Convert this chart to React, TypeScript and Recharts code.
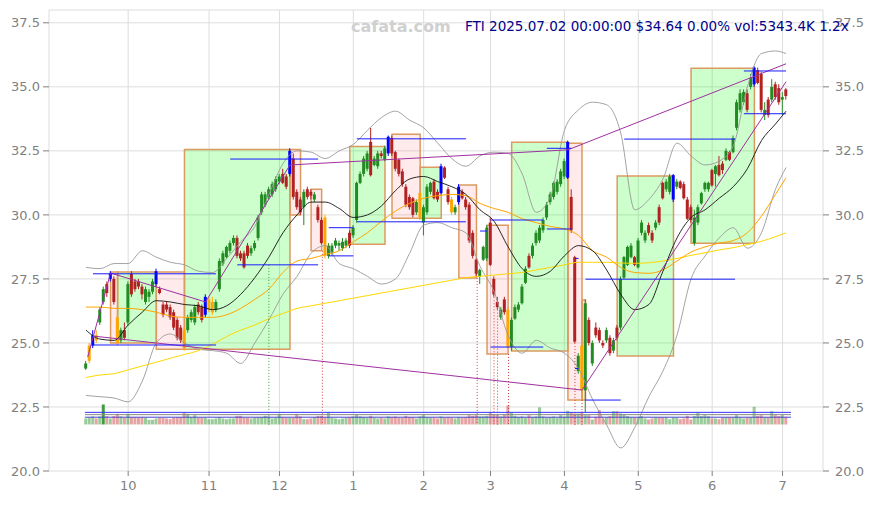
import React from "react"
import {
  ComposedChart,
  Bar,
  Line,
  XAxis,
  YAxis,
  CartesianGrid,
  ReferenceArea,
  ReferenceLine,
  Cell,
} from "recharts"

// daily candles, index 0 = 2024-09-13 ... 199 = 2025-07-02
const opens = [
  24.0, 24.3, 24.9, 25.3, 25.8, 26.6, 27.3, 27.5, 27.5, 26.0, 25.1, 25.5, 25.8, 27.7, 27.4, 27.4, 27.2, 26.6, 26.8, 27.0,
  27.3, 27.1, 26.5, 26.5, 26.4, 26.2, 25.9, 25.6, 25.5, 25.5, 25.9, 25.8, 26.5, 26.4, 26.1, 26.3, 26.2, 26.3, 27.1, 28.1,
  28.35, 28.6, 28.9, 29.1, 28.5, 28.5, 28.8, 28.5, 28.7, 29.1, 30.1, 30.4, 30.7, 30.8, 31.0, 31.3, 31.6, 31.5, 31.6, 32.2,
  30.9, 30.6, 30.3, 31.0, 30.9, 30.6, 30.3, 29.8, 29.9, 28.4, 28.5, 28.8, 28.8, 28.7, 28.8, 29.3, 29.2, 29.8, 31.25, 31.6,
  31.8, 32.85, 31.95, 31.9, 32.4, 32.15, 32.4, 33.0, 32.45, 32.15, 31.7, 31.1, 30.7, 30.65, 30.1, 29.9, 29.7, 30.1, 30.9, 31.3,
  30.9, 30.85, 31.85, 31.0, 30.6, 30.1, 30.5, 30.9, 30.6, 30.4, 29.3, 28.25, 27.6, 28.25, 28.3, 29.7, 27.5, 26.6, 26.0, 26.7,
  26.3, 24.85, 25.95, 26.3, 26.55, 27.35, 28.4, 28.4, 28.9, 29.0, 29.4, 29.9, 30.5, 30.7, 30.9, 31.2, 31.5, 31.45, 30.7, 28.35,
  23.9, 24.9, 23.15, 25.9, 24.2, 25.6, 25.5, 25.0, 25.1, 25.2, 24.7, 25.6, 25.6, 27.55, 28.05, 28.35, 28.35, 27.95, 29.3, 29.0,
  29.6, 29.3, 29.5, 30.3, 31.25, 31.0, 30.9, 30.6, 31.1, 31.3, 31.2, 30.6, 30.3, 28.9, 29.7, 30.45, 31.0, 31.0, 31.75, 31.6,
  31.95, 32.0, 32.15, 32.45, 32.45, 33.4, 34.1, 34.4, 34.75, 35.0, 35.1, 35.65, 35.5, 33.9, 34.5, 34.5, 35.1, 34.95, 34.5, 34.9,
]
const highs = [
  24.3, 25.0, 25.5, 25.5, 26.4, 27.2, 27.4, 27.8, 27.6, 26.1, 25.6, 25.8, 27.4, 27.8, 27.5, 27.5, 27.3, 27.2, 27.1, 27.5,
  27.9, 27.2, 26.6, 26.6, 26.5, 26.3, 26.0, 25.7, 25.6, 26.1, 26.3, 26.5, 26.6, 26.5, 26.9, 26.8, 26.8, 26.7, 28.3, 28.6,
  28.8, 29.0, 29.2, 29.2, 28.6, 28.6, 28.9, 28.8, 29.0, 30.0, 30.9, 30.9, 31.1, 31.3, 31.5, 31.6, 31.8, 31.6, 32.6, 32.4,
  31.0, 30.7, 31.0, 31.1, 31.0, 30.9, 30.4, 29.9, 30.0, 28.9, 28.9, 29.1, 29.0, 29.1, 29.1, 29.4, 29.6, 31.3, 31.7, 32.3,
  32.5, 33.4, 32.3, 32.5, 32.5, 32.7, 33.1, 33.1, 32.5, 32.2, 31.8, 31.2, 30.8, 30.7, 30.6, 30.9, 30.4, 31.2, 31.3, 31.4,
  31.0, 32.0, 31.9, 31.1, 30.7, 30.4, 31.2, 31.0, 30.7, 30.5, 29.4, 28.3, 27.9, 28.8, 29.6, 29.9, 27.6, 26.8, 26.4, 26.8,
  26.4, 26.0, 26.5, 26.6, 27.3, 28.0, 28.5, 28.9, 29.4, 29.6, 29.9, 30.5, 30.9, 31.3, 31.4, 31.8, 32.2, 32.9, 31.0, 28.4,
  24.6, 25.0, 26.7, 26.0, 25.1, 25.8, 25.6, 25.1, 25.6, 25.3, 25.2, 25.7, 27.6, 28.4, 28.8, 28.9, 28.4, 29.1, 29.8, 29.4,
  29.7, 29.4, 29.8, 30.4, 31.3, 31.4, 31.6, 31.6, 31.4, 31.35, 31.3, 30.7, 30.4, 30.2, 30.4, 30.9, 31.3, 31.3, 31.8, 31.95,
  32.3, 32.1, 32.6, 32.5, 33.1, 34.5, 34.9, 34.9, 34.9, 35.5, 35.8, 35.75, 35.6, 34.4, 34.6, 35.3, 35.2, 35.1, 34.8, 34.95,
]
const lows = [
  23.95, 24.2, 24.8, 25.0, 25.7, 26.5, 26.8, 27.4, 26.5, 24.9, 25.0, 25.1, 25.7, 26.8, 27.0, 27.1, 26.7, 26.5, 26.6, 26.9,
  27.2, 26.9, 26.0, 26.2, 25.9, 25.5, 25.1, 25.0, 24.7, 25.4, 25.8, 25.7, 26.1, 25.8, 26.0, 26.2, 26.1, 26.2, 27.0, 28.0,
  28.3, 28.5, 28.8, 28.3, 28.2, 27.9, 28.3, 28.4, 28.6, 29.0, 30.0, 30.3, 30.6, 30.7, 30.9, 31.2, 31.2, 31.0, 31.5, 30.6,
  30.2, 30.0, 29.6, 30.6, 30.6, 30.5, 29.7, 28.85, 28.3, 28.3, 28.4, 28.7, 28.6, 28.6, 28.7, 28.7, 29.1, 29.7, 31.2, 31.5,
  31.7, 31.5, 31.9, 31.8, 32.2, 32.1, 32.3, 32.3, 31.7, 31.5, 31.1, 30.3, 30.2, 29.9, 30.0, 29.8, 29.2, 30.0, 30.8, 30.6,
  30.5, 30.8, 31.4, 30.4, 30.0, 30.0, 30.4, 30.6, 30.2, 28.9, 28.3, 27.6, 27.3, 28.2, 28.2, 28.0, 26.8, 26.3, 25.9, 26.1,
  24.8, 24.7, 25.9, 26.2, 26.5, 27.3, 27.9, 28.3, 28.8, 28.9, 29.3, 29.8, 30.4, 30.6, 30.8, 31.1, 31.4, 31.4, 29.3, 25.0,
  23.8, 22.8, 22.3, 24.9, 24.1, 25.2, 25.0, 24.8, 25.0, 24.5, 24.6, 25.1, 25.5, 27.5, 28.0, 28.3, 28.0, 27.9, 29.2, 28.9,
  29.2, 28.9, 29.4, 29.6, 30.6, 30.9, 30.8, 30.5, 31.0, 31.0, 30.6, 29.8, 29.7, 28.8, 29.6, 30.4, 30.9, 30.9, 31.1, 31.1,
  31.5, 31.6, 32.1, 32.1, 32.4, 33.3, 34.0, 34.3, 34.0, 34.9, 35.0, 35.1, 34.0, 33.7, 33.8, 34.4, 34.5, 34.3, 33.9, 34.5,
]
const closes = [
  24.2, 24.9, 25.3, 25.1, 26.3, 27.1, 26.95, 27.7, 26.6, 25.0, 25.5, 25.2, 27.3, 26.9, 27.1, 27.2, 26.9, 27.1, 27.0, 27.4,
  27.8, 26.95, 26.1, 26.3, 26.0, 25.6, 25.2, 25.1, 24.8, 26.0, 26.2, 26.4, 26.2, 25.9, 26.8, 26.7, 26.6, 26.6, 28.2, 28.5,
  28.75, 28.9, 29.1, 28.4, 28.3, 27.95, 28.4, 28.7, 28.9, 29.9, 30.8, 30.8, 31.0, 31.2, 31.4, 31.5, 31.25, 31.1, 32.5, 30.7,
  30.3, 30.1, 30.9, 30.7, 30.75, 30.8, 29.8, 28.9, 28.4, 28.8, 28.8, 29.0, 28.9, 28.95, 29.0, 28.8, 29.5, 31.25, 31.6, 32.2,
  32.4, 31.55, 32.2, 32.4, 32.3, 32.6, 33.05, 32.4, 31.8, 31.6, 31.2, 30.4, 30.3, 30.0, 30.5, 30.85, 30.3, 31.1, 31.25, 30.65,
  30.6, 31.9, 31.45, 30.5, 30.1, 30.3, 31.1, 30.65, 30.3, 29.0, 28.4, 27.7, 27.85, 28.75, 29.5, 28.05, 26.9, 26.4, 26.3, 26.2,
  24.85, 25.9, 26.4, 26.5, 27.2, 27.9, 27.95, 28.8, 29.3, 29.5, 29.8, 30.4, 30.8, 31.25, 31.3, 31.7, 32.1, 32.85, 29.4, 25.05,
  24.5, 23.15, 26.55, 25.0, 25.0, 25.3, 25.1, 24.9, 25.5, 24.6, 25.1, 25.2, 27.5, 28.35, 28.75, 28.8, 28.05, 29.0, 29.7, 29.3,
  29.3, 29.0, 29.7, 29.7, 30.65, 31.3, 31.5, 31.55, 31.3, 31.05, 30.65, 29.85, 29.8, 29.9, 30.3, 30.85, 31.25, 31.25, 31.15, 31.9,
  31.55, 31.75, 32.5, 32.15, 33.0, 34.4, 34.75, 34.8, 34.1, 35.35, 35.75, 35.15, 34.1, 34.1, 33.9, 35.0, 34.6, 34.4, 34.6, 34.64,
]
// volume in thousands of shares
const volumes = [
  4200, 4670, 5600, 4200, 5600, 14000, 5830, 4200, 5830, 7470, 5600, 4670, 7470, 5130, 5130, 4670, 5130, 4670, 3270, 3270,
  4200, 4670, 4670, 4200, 3730, 4670, 5130, 5130, 8400, 7470, 5130, 6530, 4670, 4670, 4670, 3730, 3730, 4200, 5130, 4200,
  3730, 4200, 4200, 6070, 6070, 4670, 4670, 4200, 4670, 5130, 5130, 6070, 5600, 4200, 4670, 7470, 5130, 4670, 4670, 4670,
  7470, 5600, 3730, 3730, 4200, 5130, 6070, 6070, 5130, 8400, 4670, 4200, 3730, 4200, 4670, 5130, 5600, 7000, 5600, 5130,
  4670, 6070, 4670, 4200, 4670, 4200, 5600, 5130, 5600, 4670, 4670, 6070, 5130, 5130, 4200, 5600, 6530, 5130, 4670, 4670,
  4200, 5600, 4670, 5130, 4670, 4200, 5130, 4670, 5130, 6530, 6070, 6530, 5600, 5600, 6070, 8400, 7000, 6530, 5600, 7000,
  13300, 8400, 6070, 5130, 5600, 4670, 6530, 5130, 5600, 12000, 5600, 4670, 5130, 5600, 4670, 6530, 5370, 9570, 8400, 7700,
  7700, 8870, 6530, 6530, 3500, 5370, 10030, 4200, 4900, 5830, 9330, 9330, 7700, 7000, 5830, 4900, 4900, 4900, 5830, 4200,
  3500, 4200, 4900, 4900, 4900, 4900, 3730, 4900, 4670, 3730, 4200, 6070, 3500, 5830, 8170, 5830, 6530, 5830, 4200, 4200,
  3730, 4900, 4900, 4900, 4900, 6530, 4900, 4200, 4900, 4900, 12370, 6070, 6530, 4900, 4900, 9330, 6530, 5830, 6530, 5343,
]
const orangeBars = [1, 3, 9, 28, 35, 36, 68, 95, 104, 120, 141]
const blueBars = [2, 7, 20, 34, 58, 86, 101, 106, 137, 167, 190]

const monthTicks = [12, 35, 55, 76, 96, 115, 136, 157, 178, 198]
const monthLabels = ["10", "11", "12", "1", "2", "3", "4", "5", "6", "7"]
const priceTicks = [20, 22.5, 25, 27.5, 30, 32.5, 35, 37.5]

// indicator lines, read every 4 sessions
const lineIdx = [
  0, 4, 8, 12, 16, 20, 24, 28, 32, 36, 40, 44, 48, 52, 56, 60, 64, 68, 72, 76, 80, 84, 88, 92, 96,
  100, 104, 108, 112, 116, 120, 124, 128, 132, 136, 140, 144, 148, 152, 156, 160, 164, 168, 172, 176,
  180, 184, 188, 192, 196, 199,
]
const bandUpper = [
  27.95, 27.9, 28.1, 28.1, 28.6, 28.35, 28.15, 28.05, 27.8, 27.75, 28.3, 28.95, 29.55, 30.8, 32.0, 32.5, 32.45, 32.2,
  32.5, 32.75, 33.3, 33.8, 34.05, 33.7, 33.4, 32.8, 32.2, 31.9, 32.3, 32.45, 32.4, 31.6, 30.1, 30.7, 33.3, 34.1, 34.4,
  34.3, 33.2, 30.2, 30.6, 31.4, 32.8, 32.3, 31.95, 32.1, 32.7, 35.0, 36.3, 36.4, 36.3,
]
const bandMid = [
  25.5, 25.15, 25.1, 25.7, 26.2, 26.65, 26.6, 26.5, 26.45, 26.3, 26.45, 26.9, 27.55, 28.35, 29.3, 30.0, 30.5, 30.5,
  30.25, 29.9, 30.0, 30.35, 30.95, 31.4, 31.5, 31.3, 31.1, 30.8, 30.2, 29.75, 28.75, 27.9, 27.6, 27.8, 28.4, 28.8, 28.6,
  27.85, 26.9, 26.3, 26.5, 27.8, 29.1, 29.9, 30.2, 30.65, 31.1, 31.8, 32.9, 33.55, 34.05,
]
const bandLower = [
  22.95, 22.9, 22.85, 22.7, 23.5, 25.0, 25.35, 25.0, 24.75, 24.7, 24.6, 24.2, 25.0, 25.9, 26.9, 27.6, 28.5, 28.8, 28.1,
  27.9, 27.6, 27.3, 27.5, 28.5, 29.6, 29.7, 29.5, 29.3, 28.0, 27.0, 25.3, 24.6, 25.1, 24.8, 24.6, 24.0, 22.8, 21.8, 20.9,
  21.7, 22.9, 23.9, 25.3, 27.5, 28.4, 29.1, 29.5, 28.7, 29.3, 31.0, 31.85,
]
const maOrange = [
  26.4, 26.4, 26.35, 26.35, 26.3, 26.2, 26.05, 26.0, 26.0, 26.0, 26.1, 26.35, 26.7, 27.1, 27.75, 28.2, 28.3, 28.45, 28.6,
  28.95, 29.3, 29.75, 30.15, 30.45, 30.65, 30.75, 30.8, 30.75, 30.45, 30.25, 30.1, 29.85, 29.7, 29.55, 29.45, 29.2, 28.6,
  28.35, 27.95, 27.75, 27.72, 27.85, 28.2, 28.55, 28.75, 28.9, 29.0, 29.3, 29.95, 30.8, 31.45,
]
const maYellow = [
  23.65, 23.75, 23.8, 23.95, 24.1, 24.25, 24.4, 24.55, 24.7, 24.95, 25.25, 25.5, 25.7, 25.95, 26.15, 26.35, 26.45, 26.55,
  26.65, 26.75, 26.85, 26.95, 27.05, 27.15, 27.25, 27.35, 27.45, 27.55, 27.6, 27.65, 27.7, 27.75, 27.85, 27.95, 28.05,
  28.15, 28.15, 28.15, 28.12, 28.11, 28.13, 28.2, 28.3, 28.42, 28.52, 28.63, 28.72, 28.84, 28.97, 29.15, 29.3,
]

// boxes: g = green zone, r = red zone
const boxFrom = [7, 9, 20, 28, 58, 64, 75, 87, 95, 106, 114, 121, 137, 141, 151, 172]
const boxTo = [9, 20, 28, 58, 61, 67, 85, 95, 101, 111, 120, 137, 141, 142, 167, 190]
const boxTop = [27.77, 27.77, 27.77, 32.55, 32.55, 31.0, 32.67, 33.15, 31.86, 31.17, 29.6, 32.84, 32.8, 26.68, 31.52, 35.73]
const boxBottom = [25.0, 25.0, 24.75, 24.75, 30.0, 28.6, 28.85, 29.87, 29.87, 27.54, 24.57, 24.69, 22.77, 22.77, 24.49, 28.89]
const boxKind = ["r", "g", "r", "g", "r", "r", "g", "r", "g", "r", "r", "g", "r", "r", "g", "g"]

// blue support / resistance segments
const levelFrom = [2, 2, 41, 43, 69, 69, 77, 77, 112, 115, 115, 131, 131, 139, 139, 142, 142, 153, 187, 187]
const levelTo = [37, 37, 66, 66, 76, 76, 108, 108, 114, 130, 130, 138, 138, 140, 140, 184.5, 152, 184.5, 199, 199]
const levelPrice = [27.7, 24.92, 32.18, 28.05, 29.5, 28.4, 32.97, 29.73, 29.37, 29.8, 24.84, 29.45, 32.6, 28.3, 24.0, 27.49, 22.77, 32.96, 35.62, 33.95]

// purple trend lines
const trendX1 = [0.5, 7, 34, 58, 137, 2, 141]
const trendY1 = [24.45, 27.73, 26.6, 31.95, 32.54, 25.27, 23.16]
const trendX2 = [7, 34, 58, 137, 199, 141, 199]
const trendY2 = [27.73, 26.6, 31.95, 32.54, 35.9, 23.16, 35.2]

// dotted signal markers
const markX = [52, 67.2, 111.2, 116, 117, 120.1, 139, 141]
const markTop = [28.05, 28.6, 27.54, 26.9, 26.3, 24.57, 25.0, 22.77]
const markColor = ["#3a9a3a", "#d04040", "#d04040", "#d04040", "#d04040", "#d04040", "#d04040", "#d04040"]

// volume reference levels (drawn on the price scale)
const volLevels = [22.29, 22.2, 22.1]
const volLevelColors = ["#3333ff", "#888888", "#4444cc"]

const UP = "#228b22"
const DOWN = "#b22222"

const candles = opens.map((o, i) => ({
  i,
  o,
  h: highs[i],
  l: lows[i],
  c: closes[i],
  range: [lows[i], highs[i]],
  vol: volumes[i],
}))

const lineData = lineIdx.map((i, k) => ({
  i,
  upper: bandUpper[k],
  mid: bandMid[k],
  lower: bandLower[k],
  ma1: maOrange[k],
  ma2: maYellow[k],
}))

function candleColor(i: number, o: number, c: number) {
  if (orangeBars.includes(i)) return "#ffa500"
  if (blueBars.includes(i)) return "#0000ff"
  return c >= o ? UP : DOWN
}

function Candle(props: any) {
  const { x, y, width, height, payload } = props
  if (!payload || x == null) return null
  const { i, o, h, l, c } = payload
  const top = Math.min(y, y + height)
  const span = Math.abs(height)
  const ppu = h > l ? span / (h - l) : 0
  const y1 = top + (h - Math.max(o, c)) * ppu
  const y2 = top + (h - Math.min(o, c)) * ppu
  const color = candleColor(i, o, c)
  const cx = x + width / 2
  return (
    <g>
      <line x1={cx} x2={cx} y1={top} y2={top + span} stroke={color} strokeWidth={1} />
      <rect x={x} y={y1} width={width} height={Math.max(1, y2 - y1)} fill={color} />
    </g>
  )
}

const tickStyle = { fill: "#7f7f7f", fontSize: 13, fontFamily: "DejaVu Sans" }

export default function App() {
  return (
    <div style={{ position: "absolute", left: 0, top: 0, width: 875, height: 505, background: "#fff" }}>
      <ComposedChart
        width={875}
        height={505}
        data={candles}
        margin={{ top: 10, right: 0, bottom: 0, left: 0 }}
      >
        <XAxis
          xAxisId="x"
          dataKey="i"
          type="number"
          domain={[-10.5, 209.5]}
          allowDataOverflow
          ticks={monthTicks}
          interval={0}
          tickFormatter={(v: number) => monthLabels[monthTicks.indexOf(v)]}
          tick={tickStyle}
          axisLine={false}
          tickLine={{ stroke: "#7f7f7f" }}
          tickSize={5}
          tickMargin={5}
          height={34}
        />
        <XAxis xAxisId="xv" dataKey="i" type="number" domain={[-10.5, 209.5]} allowDataOverflow hide />
        <YAxis
          yAxisId="p"
          type="number"
          domain={[20, 38]}
          allowDataOverflow
          ticks={priceTicks}
          interval={0}
          tickFormatter={(v: number) => v.toFixed(1)}
          tick={tickStyle}
          axisLine={false}
          tickLine={{ stroke: "#7f7f7f" }}
          tickSize={6}
          tickMargin={3}
          width={49}
        />
        <YAxis
          yAxisId="pr"
          orientation="right"
          type="number"
          domain={[20, 38]}
          allowDataOverflow
          ticks={priceTicks}
          interval={0}
          tickFormatter={(v: number) => v.toFixed(1)}
          tick={tickStyle}
          axisLine={false}
          tickLine={{ stroke: "#7f7f7f" }}
          tickSize={6}
          tickMargin={6}
          width={52}
        />
        <YAxis yAxisId="v" type="number" domain={[-32550, 290010]} allowDataOverflow hide />
        <CartesianGrid xAxisId="x" yAxisId="p" stroke="#dddddd" strokeWidth={1} />

        {boxFrom.map((x1, k) => (
          <ReferenceArea
            key={"box" + k}
            xAxisId="x"
            yAxisId="p"
            x1={x1}
            x2={boxTo[k]}
            y1={boxBottom[k]}
            y2={boxTop[k]}
            fill={boxKind[k] === "g" ? "#00ff00" : "#ff0000"}
            fillOpacity={boxKind[k] === "g" ? 0.2 : 0.08}
            stroke="#dc9a60"
            strokeWidth={1.5}
            ifOverflow="visible"
          />
        ))}

        <Line xAxisId="x" yAxisId="p" data={lineData} dataKey="upper" type="monotone" stroke="#999999" strokeWidth={0.9} dot={false} isAnimationActive={false} />
        <Line xAxisId="x" yAxisId="p" data={lineData} dataKey="lower" type="monotone" stroke="#999999" strokeWidth={0.9} dot={false} isAnimationActive={false} />
        <Line xAxisId="x" yAxisId="p" data={lineData} dataKey="ma2" type="monotone" stroke="#ffd700" strokeWidth={1} dot={false} isAnimationActive={false} />
        <Line xAxisId="x" yAxisId="p" data={lineData} dataKey="ma1" type="monotone" stroke="#ffa500" strokeWidth={1} dot={false} isAnimationActive={false} />
        <Line xAxisId="x" yAxisId="p" data={lineData} dataKey="mid" type="monotone" stroke="#111111" strokeWidth={0.9} dot={false} isAnimationActive={false} />

        {markX.map((x, k) => (
          <ReferenceLine
            key={"mk" + k}
            xAxisId="x"
            yAxisId="p"
            segment={[{ x, y: markTop[k] }, { x, y: 21.8 }]}
            stroke={markColor[k]}
            strokeWidth={1}
            strokeDasharray="1 2"
            ifOverflow="visible"
          />
        ))}

        {volLevels.map((y, k) => (
          <ReferenceLine
            key={"vl" + k}
            xAxisId="x"
            yAxisId="p"
            segment={[{ x: -0.3, y }, { x: 200.4, y }]}
            stroke={volLevelColors[k]}
            strokeWidth={1}
            ifOverflow="visible"
          />
        ))}

        <Bar xAxisId="xv" yAxisId="v" dataKey="vol" barSize={3} isAnimationActive={false}>
          {candles.map((d) => (
            <Cell
              key={"v" + d.i}
              fill={d.c >= d.o ? UP : "#c83232"}
              fillOpacity={d.vol > 13500 ? 0.85 : 0.45}
            />
          ))}
        </Bar>

        {trendX1.map((x1, k) => (
          <ReferenceLine
            key={"tr" + k}
            xAxisId="x"
            yAxisId="p"
            segment={[{ x: x1, y: trendY1[k] }, { x: trendX2[k], y: trendY2[k] }]}
            stroke="#a030a0"
            strokeWidth={1}
            ifOverflow="visible"
          />
        ))}

        {levelFrom.map((x1, k) => (
          <ReferenceLine
            key={"lv" + k}
            xAxisId="x"
            yAxisId="p"
            segment={[{ x: x1, y: levelPrice[k] }, { x: levelTo[k], y: levelPrice[k] }]}
            stroke="#1a1aff"
            strokeWidth={1}
            ifOverflow="visible"
          />
        ))}

        <Bar xAxisId="x" yAxisId="p" dataKey="range" barSize={3} shape={Candle} isAnimationActive={false} />
      </ComposedChart>

      <svg width={875} height={505} style={{ position: "absolute", left: 0, top: 0, pointerEvents: "none" }}>
        <text x={351} y={32} fontFamily="DejaVu Sans" fontWeight="bold" fontSize={16} fill="#d0d0d0">
          cafata.com
        </text>
        <text x={465} y={31} fontFamily="DejaVu Sans" fontSize={13.5} fill="#00008b">
          FTI 2025.07.02 00:00:00 $34.64 0.00% vol:5343.4K 1.2x
        </text>
      </svg>
    </div>
  )
}
